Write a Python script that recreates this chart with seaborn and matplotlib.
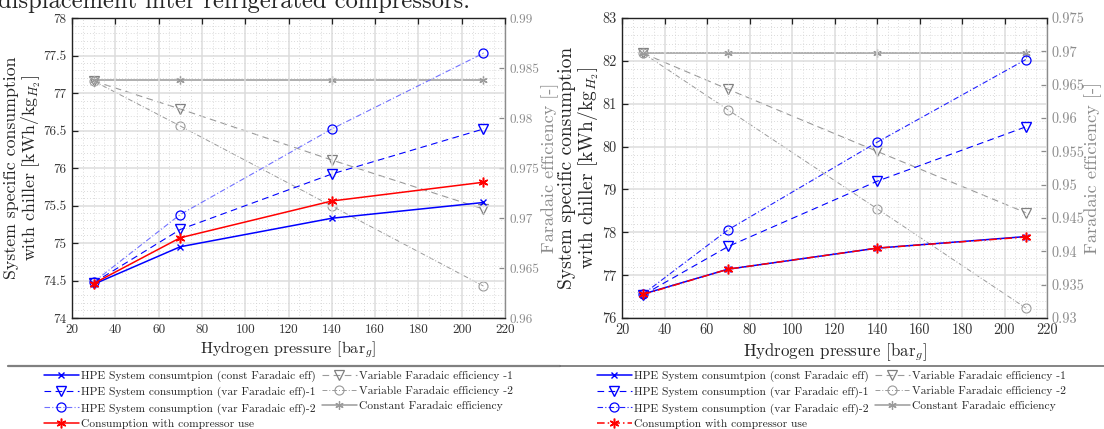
import numpy as np
import pandas as pd
import seaborn as sns
import matplotlib
matplotlib.use("Agg")
import matplotlib.pyplot as plt
from matplotlib.ticker import MultipleLocator, FuncFormatter
from matplotlib.lines import Line2D

# ---------------- data ----------------
pressure = [30, 70, 140, 210]

# left panel (consumption, kWh/kg)
L_const = [74.45, 74.95, 75.33, 75.54]
L_var1 = [74.47, 75.18, 75.92, 76.52]
L_var2 = [74.48, 75.38, 76.52, 77.53]
L_comp = [74.46, 75.07, 75.56, 75.81]
# left panel (Faradaic efficiency)
L_fe1 = [0.9837, 0.9809, 0.9758, 0.9709]
L_fe2 = [0.9837, 0.9792, 0.9712, 0.9632]
L_fec = [0.9838, 0.9838, 0.9838, 0.9838]

# right panel
R_const = [76.56, 77.14, 77.63, 77.90]
R_var1 = [76.54, 77.67, 79.19, 80.46]
R_var2 = [76.56, 78.06, 80.10, 82.03]
R_comp = [76.55, 77.14, 77.63, 77.89]
R_fe1 = [0.9697, 0.9643, 0.9550, 0.9458]
R_fe2 = [0.9697, 0.9612, 0.9464, 0.9315]
R_fec = [0.9698, 0.9698, 0.9698, 0.9698]

labels = ["HPE System consumtpion (const Faradaic eff)",
          "HPE System consumption (var Faradaic eff)-1",
          "HPE System consumption (var Faradaic eff)-2",
          "Consumption with compressor use",
          "Variable Faradaic efficiency -1",
          "Variable Faradaic efficiency -2",
          "Constant Faradaic efficiency"]

title_text = "displacement inter refrigerated compressors."

# ---------------- style ----------------
sns.set_style("white")
plt.rcParams["font.family"] = "serif"
plt.rcParams["font.serif"] = ["cmr10", "DejaVu Serif"]
plt.rcParams["mathtext.fontset"] = "cm"
plt.rcParams["axes.formatter.use_mathtext"] = True
plt.rcParams["axes.unicode_minus"] = False

W, H = 1104, 429
fig = plt.figure(figsize=(W / 100, H / 100), dpi=100)

BLUE = "#0000ff"
RED = "#ff0000"
GRAY = "#9a9a9a"
GRAYTXT = "#8c8c8c"

asterisk = (6, 2, 0)

fmt = FuncFormatter(lambda v, p: "%g" % round(v, 4))


def panel(rect, cons, fes, ylim, yst, flim, fst, comp_ls, var2_color, tsize):
    ax = fig.add_axes(rect)
    ax2 = ax.twinx()
    const, var1, var2, comp = cons
    fe1, fe2, fec = fes

    def df(y):
        return pd.DataFrame({"p": pressure, "v": y})

    # right axis series (gray)
    sns.lineplot(data=df(fe1), x="p", y="v", ax=ax2, color=GRAY, lw=0.8,
                 linestyle=(0, (6, 4)), marker="v", markersize=7,
                 markerfacecolor="none", markeredgecolor="#808080",
                 markeredgewidth=0.9, label=labels[4])
    sns.lineplot(data=df(fe2), x="p", y="v", ax=ax2, color=GRAY, lw=0.7,
                 linestyle=(0, (5, 2, 1, 2)), marker="o", markersize=6.5,
                 markerfacecolor="none", markeredgecolor=GRAY,
                 markeredgewidth=0.8, label=labels[5])
    sns.lineplot(data=df(fec), x="p", y="v", ax=ax2, color=GRAY, lw=1.1,
                 linestyle="-", marker=asterisk, markersize=6,
                 markeredgecolor=GRAY, markeredgewidth=0.9, label=labels[6])

    # left axis series
    sns.lineplot(data=df(const), x="p", y="v", ax=ax, color=BLUE, lw=1.1,
                 linestyle="-", marker="x", markersize=5,
                 markeredgecolor=BLUE, markeredgewidth=1.0, label=labels[0])
    sns.lineplot(data=df(var1), x="p", y="v", ax=ax, color=BLUE, lw=0.8,
                 linestyle=(0, (6, 4)), marker="v", markersize=7,
                 markerfacecolor="none", markeredgecolor=BLUE,
                 markeredgewidth=1.0, label=labels[1])
    sns.lineplot(data=df(var2), x="p", y="v", ax=ax, color=var2_color, lw=0.8,
                 linestyle=(0, (5, 2, 1, 2)), marker="o", markersize=6.5,
                 markerfacecolor="none", markeredgecolor=BLUE,
                 markeredgewidth=0.9, label=labels[2])
    sns.lineplot(data=df(comp), x="p", y="v", ax=ax, color=RED, lw=1.1,
                 linestyle=comp_ls, marker=asterisk, markersize=7,
                 markeredgecolor=RED, markeredgewidth=1.1, label=labels[3])

    for a in (ax, ax2):
        if a.get_legend() is not None:
            a.get_legend().remove()
        a.set_xlabel("")
        a.set_ylabel("")

    ax.set_zorder(ax2.get_zorder() + 1)
    ax.patch.set_visible(False)

    ax.set_xlim(20, 220)
    ax.xaxis.set_major_locator(MultipleLocator(20))
    ax.xaxis.set_minor_locator(MultipleLocator(5))
    ax.set_ylim(*ylim)
    ax.yaxis.set_major_locator(MultipleLocator(yst))
    ax.yaxis.set_minor_locator(MultipleLocator(yst / 5))
    ax.yaxis.set_major_formatter(fmt)
    ax.xaxis.set_major_formatter(fmt)
    ax2.set_ylim(*flim)
    ax2.yaxis.set_major_locator(MultipleLocator(fst))
    ax2.yaxis.set_major_formatter(fmt)

    ax2.grid(False)
    ax.grid(which="major", color="#dcdcdc", lw=1.1, ls="-")
    ax.grid(which="minor", color="#cfcfcf", lw=0.6, ls=(0, (1, 2.5)))

    ax.tick_params(axis="both", which="major", direction="in", length=4,
                   width=0.9, labelsize=tsize, colors="#222222", top=True,
                   labelcolor="#333333", pad=4)
    ax.tick_params(axis="both", which="minor", length=0)
    ax2.tick_params(axis="y", which="major", direction="in", length=4,
                    width=0.9, labelsize=tsize, colors=GRAYTXT, pad=3)
    for s in ["left", "bottom", "top"]:
        ax.spines[s].set_color("#222222")
        ax.spines[s].set_linewidth(1.0)
    ax.spines["right"].set_visible(False)
    ax2.spines["right"].set_color(GRAYTXT)
    ax2.spines["right"].set_linewidth(1.0)
    for s in ["left", "bottom", "top"]:
        ax2.spines[s].set_visible(False)

    ax.set_xlabel(r"Hydrogen pressure [bar$_g$]", fontsize=12, labelpad=3)
    ax.set_ylabel("System specific consumption\n"
                  r"with chiller [kWh/kg$_{H_2}$]", fontsize=12.2,
                  linespacing=1.05)
    ax2.set_ylabel("Faradaic efficiency [-]", fontsize=12, color=GRAYTXT)

    h1, l1 = ax.get_legend_handles_labels()
    h2, l2 = ax2.get_legend_handles_labels()
    return ax, ax2, h1 + h2, l1 + l2


axL, axL2, hL, lL = panel([72 / W, 1 - 318 / H, 433 / W, 300 / H],
                          (L_const, L_var1, L_var2, L_comp),
                          (L_fe1, L_fe2, L_fec),
                          (74, 78), 0.5, (0.96, 0.99), 0.005, "-", "#7070ff",
                          9.5)
axR, axR2, hR, lR = panel([622 / W, 1 - 318 / H, 425 / W, 300 / H],
                          (R_const, R_var1, R_var2, R_comp),
                          (R_fe1, R_fe2, R_fec),
                          (76, 83), 1, (0.93, 0.975), 0.005,
                          (0, (5, 2, 1, 2)), "#2020ff", 10.3)

legs = []
for h, l, x0 in ((hL, lL, 44), (hR, lR, 597)):
    legs.append(fig.legend(h, l, loc="upper left",
                           bbox_to_anchor=(x0 / W, 1 - 371 / H),
                           ncol=2, frameon=False, fontsize=8.3,
                           handlelength=3.0, handletextpad=0.25,
                           columnspacing=0.5, labelspacing=0.42,
                           borderpad=0.0, borderaxespad=0.0))

fig.add_artist(Line2D([8 / W, 560 / W], [1 - 366 / H] * 2, color="#808080",
                      lw=1.6, transform=fig.transFigure))
fig.add_artist(Line2D([560 / W, 1.0], [1 - 366 / H] * 2, color="#707070",
                      lw=1.2, transform=fig.transFigure))

title = fig.text(-0.002, 1 - 8 / H, title_text, fontsize=17.5, ha="left",
                 va="baseline")

# ---- fit text sizes to the reference pixel lengths ----
fig.canvas.draw()
r = fig.canvas.get_renderer()


def fit(txt, target, vertical):
    bb = txt.get_window_extent(r)
    cur = bb.height if vertical else bb.width
    if cur > 0:
        txt.set_fontsize(txt.get_fontsize() * target / cur)


fit(axL.yaxis.label, 223, True)
fit(axL.xaxis.label, 176, False)
fit(axL2.yaxis.label, 170, True)
fit(axR.yaxis.label, 243, True)
fit(axR.xaxis.label, 184, False)
fit(axR2.yaxis.label, 172, True)
fit(title, 470, False)

# label positions (reference pixel positions)
# left-side ylabels are anchored at their right edge, right-side at left edge
axL.yaxis.set_label_coords((43 - 72) / 433, 0.5)
axR.yaxis.set_label_coords((601 - 622) / 425, 0.5)
axL2.yaxis.set_label_coords((541 - 72) / 433, 0.5)
axR2.yaxis.set_label_coords((1084 - 622) / 425, 0.5)

fig.savefig("out.png", dpi=100)
